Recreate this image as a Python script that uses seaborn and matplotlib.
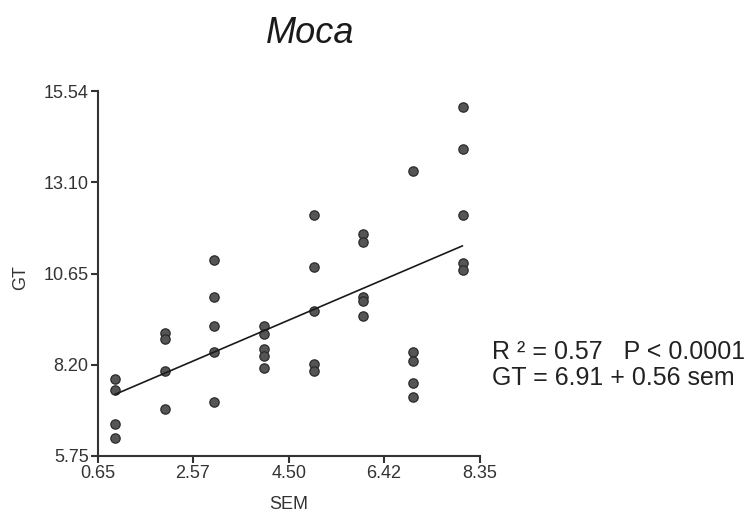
import numpy as np
import pandas as pd
import seaborn as sns
from matplotlib import pyplot as plt

# values
sem = [1, 1, 1, 1,
       2, 2, 2, 2,
       3, 3, 3, 3, 3,
       4, 4, 4, 4, 4,
       5, 5, 5, 5, 5,
       6, 6, 6, 6, 6,
       7, 7, 7, 7, 7,
       8, 8, 8, 8, 8]
gt = [7.81, 7.51, 6.61, 6.23,
      9.05, 8.90, 8.03, 7.01,
      11.02, 10.01, 9.23, 8.53, 7.20,
      9.23, 9.03, 8.63, 8.44, 8.12,
      12.23, 10.83, 9.64, 8.22, 8.02,
      11.72, 11.51, 10.02, 9.92, 9.51,
      13.41, 8.55, 8.30, 7.72, 7.34,
      15.11, 14.00, 12.22, 10.94, 10.74]
x_ticks = [0.65, 2.57, 4.50, 6.42, 8.35]
y_ticks = [5.75, 8.20, 10.65, 13.10, 15.54]
title = "Moca"
stats_lines = ["R ² = 0.57   P < 0.0001", "GT = 6.91 + 0.56 sem"]

df = pd.DataFrame({"SEM": sem, "GT": gt})

sns.set_style("ticks")
plt.rcParams['font.family'] = ['Liberation Sans', 'DejaVu Sans']

fig = plt.figure(figsize=(7.51, 5.14), dpi=100)
ax = fig.add_axes([0.130, 0.113, 0.509, 0.709])

sns.regplot(data=df, x="SEM", y="GT", ax=ax, ci=None,
            scatter_kws=dict(s=45, color="#555555", edgecolor="#2a2a2a",
                             linewidths=0.9, alpha=1),
            line_kws=dict(color="#1a1a1a", linewidth=1.2))

ax.set_xlim(x_ticks[0], x_ticks[-1])
ax.set_ylim(y_ticks[0], y_ticks[-1])
ax.set_xticks(x_ticks)
ax.set_yticks(y_ticks)
ax.set_xticklabels([f"{v:.2f}" for v in x_ticks])
ax.set_yticklabels([f"{v:.2f}" for v in y_ticks])

for side in ["top", "right"]:
    ax.spines[side].set_visible(False)
for side in ["left", "bottom"]:
    ax.spines[side].set_color("#333333")
    ax.spines[side].set_linewidth(1.5)
ax.tick_params(direction="out", length=5, width=1.5, color="#333333",
               labelsize=13, labelcolor="#333333", pad=1.5)

ax.set_xlabel("SEM", fontsize=13, color="#333333")
ax.set_ylabel("GT", fontsize=13, color="#333333")
ax.xaxis.set_label_coords(0.5, -0.110)
ax.yaxis.set_label_coords(-0.18, 0.49)

fig.text(0.413, 0.916, title, fontsize=26, style="italic", ha="center",
         va="baseline", color="#1a1a1a")
fig.text(0.655, 0.302, stats_lines[0], fontsize=18, va="baseline", color="#222222")
fig.text(0.655, 0.251, stats_lines[1], fontsize=18, va="baseline", color="#222222")

fig.savefig("out.png", dpi=100)
